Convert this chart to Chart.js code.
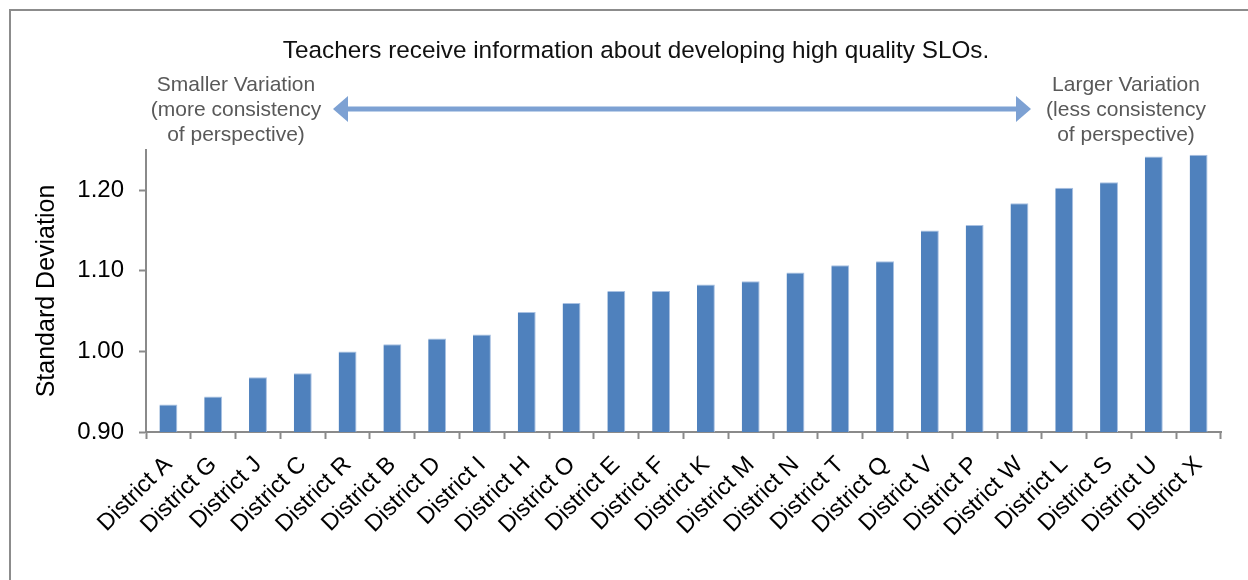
<!DOCTYPE html>
<html>
<head>
<meta charset="utf-8">
<script src="https://cdn.jsdelivr.net/npm/chart.js@4/dist/chart.umd.min.js"></script>
<style>
  html, body { margin: 0; padding: 0; background: #fff; }
  #wrap { width: 1248px; height: 580px; }
</style>
</head>
<body>
<div id="wrap"><canvas id="sdChart"></canvas></div>
<script>
const districts = ['District A', 'District G', 'District J', 'District C', 'District R', 'District B',
    'District D', 'District I', 'District H', 'District O', 'District E', 'District F',
    'District K', 'District M', 'District N', 'District T', 'District Q', 'District V',
    'District P', 'District W', 'District L', 'District S', 'District U', 'District X'];
const stdDev = [0.934, 0.944, 0.968, 0.973, 1.000, 1.009, 1.016, 1.021, 1.049, 1.060, 1.075, 1.075,
    1.083, 1.087, 1.098, 1.107, 1.112, 1.150, 1.157, 1.184, 1.203, 1.210, 1.242, 1.244];
const yTicks = [0.90, 1.00, 1.10, 1.20];

const chartTitle = 'Teachers receive information about developing high quality SLOs.';
const leftNote = ['Smaller Variation', '(more consistency', 'of perspective)'];
const rightNote = ['Larger Variation', '(less consistency', 'of perspective)'];

const fontFamily = '"Liberation Sans", Arial, Helvetica, sans-serif';

// frame, heading, side notes and the double arrow
const notesPlugin = {
    id: 'notes',
    afterDraw(chart) {
        const c = chart.ctx;
        c.save();
        c.strokeStyle = '#8c8c8c';
        c.lineWidth = 2;
        c.beginPath();
        c.moveTo(10, 580);
        c.lineTo(10, 10);
        c.lineTo(1248, 10);
        c.stroke();

        c.fillStyle = '#111';
        c.font = '24.3px ' + fontFamily;
        c.textAlign = 'center';
        c.textBaseline = 'alphabetic';
        c.fillText(chartTitle, 636, 58);

        c.fillStyle = '#595959';
        c.font = '21px ' + fontFamily;
        leftNote.forEach((t, i) => c.fillText(t, 236, 91 + i * 25));
        rightNote.forEach((t, i) => c.fillText(t, 1126, 91 + i * 25));

        const ay = 109;
        c.strokeStyle = '#7da1d3';
        c.fillStyle = '#7da1d3';
        c.lineWidth = 5;
        c.beginPath();
        c.moveTo(346, ay);
        c.lineTo(1018, ay);
        c.stroke();
        c.beginPath();
        c.moveTo(333, ay);
        c.lineTo(348, ay - 13);
        c.lineTo(348, ay + 13);
        c.closePath();
        c.fill();
        c.beginPath();
        c.moveTo(1031, ay);
        c.lineTo(1016, ay - 13);
        c.lineTo(1016, ay + 13);
        c.closePath();
        c.fill();
        c.restore();
    }
};

const ctx = document.getElementById('sdChart').getContext('2d');
const sdChart = new Chart(ctx, {
    type: 'bar',
    data: {
        labels: districts,
        datasets: [{
            label: 'Standard Deviation',
            data: stdDev,
            backgroundColor: '#4f81bd',
            borderColor: '#a9c1e2',
            borderWidth: { top: 1, right: 1, left: 0, bottom: 0 },
            barPercentage: 0.4,
            categoryPercentage: 1.0
        }]
    },
    options: {
        responsive: true,
        maintainAspectRatio: false,
        animation: false,
        layout: { padding: { left: 0, top: 150, right: 27, bottom: 0 } },
        plugins: {
            legend: { display: false },
            tooltip: { enabled: false }
        },
        scales: {
            x: {
                grid: { drawOnChartArea: false, tickLength: 7, tickColor: '#8a8a8a', tickWidth: 2 },
                border: { color: '#8a8a8a', width: 2 },
                ticks: {
                    autoSkip: false,
                    minRotation: 45,
                    maxRotation: 45,
                    padding: 12,
                    color: '#000',
                    font: { family: fontFamily, size: 23.5 }
                },
                afterFit(scale) { scale.height = 148; }
            },
            y: {
                min: 0.9,
                max: 1.25,
                grid: { drawOnChartArea: false, tickLength: 7, tickColor: '#8a8a8a', tickWidth: 2 },
                border: { color: '#8a8a8a', width: 2 },
                ticks: {
                    stepSize: 0.1,
                    padding: 15,
                    color: '#000',
                    font: { family: fontFamily, size: 24 },
                    callback: (v) => Number(v).toFixed(2)
                },
                afterBuildTicks(scale) {
                    scale.ticks = yTicks.map(v => ({ value: v }));
                },
                title: {
                    display: true,
                    text: 'Standard Deviation',
                    color: '#000',
                    font: { family: fontFamily, size: 25 },
                    padding: { top: 32, bottom: 0 }
                },
                afterFit(scale) { scale.width = 146; }
            }
        }
    },
    plugins: [notesPlugin]
});
</script>
</body>
</html>
